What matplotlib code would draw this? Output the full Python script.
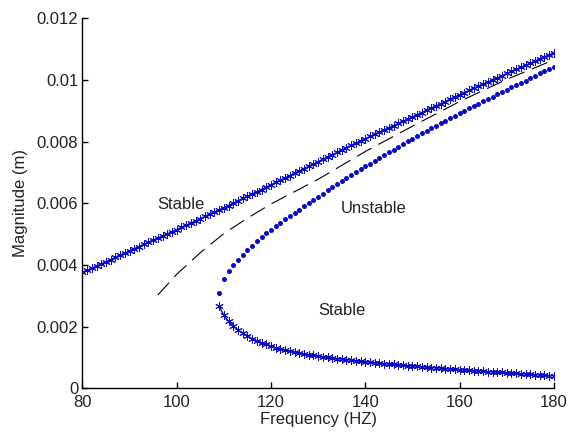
"""
Duffing-type frequency response: stable / unstable branches and backbone.
"""

import numpy as np
import matplotlib.pyplot as plt

plt.rcParams['font.family'] = ['Liberation Sans', 'DejaVu Sans']

# upper stable branch, 80..180 Hz in 1 Hz steps
freq_upper = np.arange(80, 181)
amp_upper = [
    0.00376, 0.00383, 0.00390, 0.00397, 0.00404, 0.00411, 0.00418, 0.00425, 0.00432, 0.00439,
    0.00446, 0.00453, 0.00460, 0.00467, 0.00474, 0.00481, 0.00488, 0.00494, 0.00501, 0.00508,
    0.00515, 0.00522, 0.00529, 0.00536, 0.00543, 0.00550, 0.00558, 0.00565, 0.00572, 0.00579,
    0.00586, 0.00593, 0.00601, 0.00608, 0.00616, 0.00623, 0.00630, 0.00638, 0.00645, 0.00653,
    0.00660, 0.00668, 0.00675, 0.00683, 0.00690, 0.00698, 0.00705, 0.00713, 0.00720, 0.00728,
    0.00735, 0.00743, 0.00750, 0.00758, 0.00765, 0.00773, 0.00780, 0.00788, 0.00795, 0.00803,
    0.00810, 0.00817, 0.00824, 0.00831, 0.00838, 0.00845, 0.00852, 0.00859, 0.00866, 0.00873,
    0.00880, 0.00887, 0.00894, 0.00902, 0.00909, 0.00916, 0.00923, 0.00930, 0.00938, 0.00945,
    0.00952, 0.00959, 0.00966, 0.00973, 0.00980, 0.00987, 0.00993, 0.01000, 0.01007, 0.01014,
    0.01021, 0.01028, 0.01034, 0.01041, 0.01048, 0.01054, 0.01061, 0.01068, 0.01075, 0.01081,
    0.01088,
]

# unstable (middle) branch, 109..180 Hz
freq_unstable = np.arange(109, 181)
amp_unstable = [
    0.00311, 0.00354, 0.00381, 0.00401, 0.00418, 0.00433, 0.00448, 0.00463, 0.00477, 0.00490,
    0.00503, 0.00515, 0.00526, 0.00537, 0.00548, 0.00559, 0.00570, 0.00580, 0.00591, 0.00601,
    0.00612, 0.00622, 0.00632, 0.00643, 0.00653, 0.00663, 0.00673, 0.00683, 0.00693, 0.00702,
    0.00711, 0.00720, 0.00729, 0.00738, 0.00747, 0.00756, 0.00765, 0.00774, 0.00783, 0.00792,
    0.00801, 0.00810, 0.00819, 0.00827, 0.00836, 0.00844, 0.00852, 0.00860, 0.00868, 0.00876,
    0.00884, 0.00892, 0.00900, 0.00908, 0.00915, 0.00923, 0.00931, 0.00938, 0.00946, 0.00953,
    0.00961, 0.00968, 0.00976, 0.00983, 0.00991, 0.00998, 0.01006, 0.01013, 0.01021, 0.01028,
    0.01036, 0.01043,
]

# lower stable branch, 109..180 Hz
freq_lower = np.arange(109, 181)
amp_lower = [
    0.00267, 0.00238, 0.00218, 0.00203, 0.00190, 0.00179, 0.00170, 0.00162, 0.00155, 0.00149,
    0.00143, 0.00137, 0.00132, 0.00128, 0.00124, 0.00121, 0.00118, 0.00115, 0.00112, 0.00109,
    0.00107, 0.00105, 0.00103, 0.00101, 0.00099, 0.00097, 0.00095, 0.00093, 0.00092, 0.00090,
    0.00088, 0.00087, 0.00085, 0.00084, 0.00082, 0.00081, 0.00079, 0.00078, 0.00077, 0.00075,
    0.00074, 0.00073, 0.00072, 0.00070, 0.00069, 0.00068, 0.00067, 0.00066, 0.00064, 0.00063,
    0.00062, 0.00061, 0.00060, 0.00059, 0.00058, 0.00057, 0.00056, 0.00055, 0.00054, 0.00053,
    0.00052, 0.00051, 0.00050, 0.00049, 0.00048, 0.00047, 0.00046, 0.00045, 0.00044, 0.00043,
    0.00042, 0.00041,
]

# backbone curve (dashed)
freq_backbone = [96, 100, 105, 110, 115, 120, 125, 130, 140, 150, 160, 170, 180]
amp_backbone = [0.00303, 0.00370, 0.00440, 0.00502, 0.00552, 0.00598, 0.00638,
                0.00678, 0.00768, 0.00850, 0.00930, 0.01002, 0.01065]

BLUE = "#0a0ac0"
TEXT = "#222222"
ASTERISK = (6, 2, 0)  # six-armed asterisk, like MATLAB's '*'

fig = plt.figure(figsize=(5.68, 4.32), dpi=100)
ax = fig.add_axes([0.145, 0.1007, 0.830, 0.857])

ax.plot(freq_backbone, amp_backbone, color="black", lw=0.8, dashes=(15, 7))
ax.plot(freq_upper, amp_upper, "-", marker=ASTERISK, color=BLUE, ms=6, lw=1.0, mew=0.7)
ax.plot(freq_lower, amp_lower, "-", marker=ASTERISK, color=BLUE, ms=6, lw=1.0, mew=0.7)
ax.plot(freq_unstable, amp_unstable, "o", color=BLUE, ms=3.6, mew=0)

ax.text(101, 0.00595, "Stable", ha="center", va="center", fontsize=12, color=TEXT)
ax.text(141.7, 0.00585, "Unstable", ha="center", va="center", fontsize=12, color=TEXT)
ax.text(135, 0.00254, "Stable", ha="center", va="center", fontsize=12, color=TEXT)

ax.set_xlim(80, 180)
ax.set_ylim(0, 0.012)
ax.set_xticks([80, 100, 120, 140, 160, 180])
ax.set_yticks([0, 0.002, 0.004, 0.006, 0.008, 0.01, 0.012])
ax.set_yticklabels(["0", "0.002", "0.004", "0.006", "0.008", "0.01", "0.012"])
ax.tick_params(direction="in", length=4, width=1, labelsize=12, colors="black",
               labelcolor=TEXT)
ax.tick_params(axis="x", pad=5)
ax.tick_params(axis="y", pad=3)
ax.spines["top"].set_visible(False)
ax.spines["right"].set_visible(False)
for s in ("left", "bottom"):
    ax.spines[s].set_linewidth(1.0)

ax.set_xlabel("Frequency (HZ)", fontsize=12, color=TEXT, labelpad=1)
ax.set_ylabel("Magnitude (m)", fontsize=12, color=TEXT, labelpad=6)

fig.savefig("out.png", dpi=100)
